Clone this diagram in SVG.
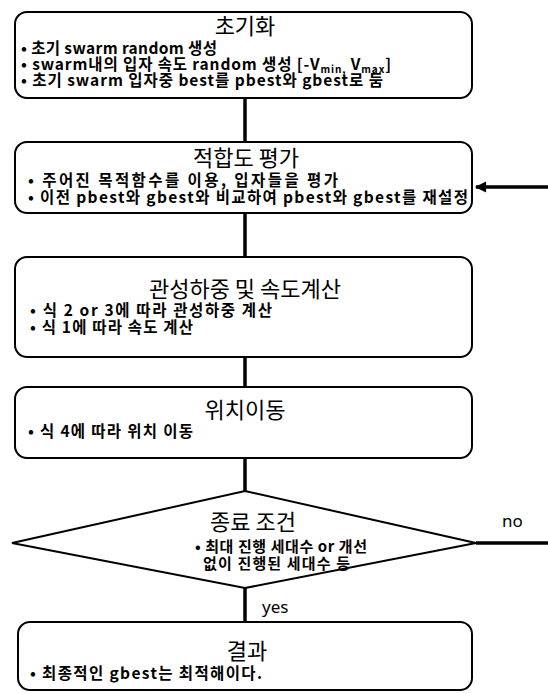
<svg xmlns="http://www.w3.org/2000/svg" width="548" height="694" viewBox="0 0 548 694">
<defs>
<style>
.box{fill:#fff;stroke:#000;stroke-width:2}
.ttl{font-family:"Noto Sans CJK KR","Noto Sans",sans-serif;font-size:22px;fill:#000;text-anchor:middle}
.bul{font-family:"Noto Sans CJK KR","Noto Sans",sans-serif;font-size:15.5px;font-weight:700;fill:#000}
.dbul{font-family:"Noto Sans CJK KR","Noto Sans",sans-serif;font-size:15px;font-weight:700;fill:#000}
.lbl{font-family:"Noto Sans","Noto Sans CJK KR",sans-serif;font-size:17px;fill:#000}
.con{stroke:#000;stroke-width:3.5;fill:none}
</style>
<marker id="ah" viewBox="0 0 10 10" refX="9" refY="5" markerWidth="3.6" markerHeight="3.2" orient="auto" markerUnits="strokeWidth">
<path d="M0,0 L10,5 L0,10 z" fill="#000"/>
</marker>
</defs>
<rect width="548" height="694" fill="#fff"/>
<g id="connectors">
<line class="con" x1="245" y1="98" x2="245" y2="142"/>
<line class="con" x1="245" y1="213" x2="245" y2="257"/>
<line class="con" x1="245" y1="357" x2="245" y2="387"/>
<line class="con" x1="245" y1="458" x2="245" y2="491"/>
<line class="con" x1="245" y1="588" x2="245" y2="622"/>
<line class="con" x1="476" y1="543" x2="548" y2="543"/>
<line class="con" x1="548" y1="187" x2="476" y2="187" marker-end="url(#ah)"/>
<text class="lbl" x="502" y="527">no</text>
<text class="lbl" x="262" y="613">yes</text>
</g>
<g id="init">
<rect class="box" x="15" y="12" width="457" height="86" rx="12"/>
<text class="ttl" x="245" y="34">초기화</text>
<text class="bul" x="21" y="54" textLength="196" lengthAdjust="spacing">• 초기 swarm random 생성</text>
<text class="bul" x="21" y="70" textLength="370" lengthAdjust="spacing">• swarm내의 입자 속도 random 생성 [-V<tspan font-size="10" dy="3">min,</tspan><tspan dy="-3"> V</tspan><tspan font-size="10" dy="3">max</tspan><tspan dy="-3">]</tspan></text>
<text class="bul" x="21" y="86" textLength="362" lengthAdjust="spacing">• 초기 swarm 입자중 best를 pbest와 gbest로 둠</text>
</g>
<g id="fitness">
<rect class="box" x="15" y="142" width="457" height="71" rx="12"/>
<text class="ttl" x="246" y="166">적합도 평가</text>
<text class="bul" x="28" y="186" textLength="310" lengthAdjust="spacing">• 주어진 목적함수를 이용, 입자들을 평가</text>
<text class="bul" x="28" y="203" textLength="440" lengthAdjust="spacing">• 이전 pbest와 gbest와 비교하여 pbest와 gbest를 재설정</text>
</g>
<g id="velocity">
<rect class="box" x="15" y="257" width="457" height="100" rx="12"/>
<text class="ttl" x="245" y="297">관성하중 및 속도계산</text>
<text class="bul" x="30" y="316" textLength="242" lengthAdjust="spacing">• 식 2 or 3에 따라 관성하중 계산</text>
<text class="bul" x="30" y="333" textLength="163" lengthAdjust="spacing">• 식 1에 따라 속도 계산</text>
</g>
<g id="move">
<rect class="box" x="15" y="387" width="457" height="71" rx="12"/>
<text class="ttl" x="245" y="418">위치이동</text>
<text class="bul" x="28" y="437" textLength="165" lengthAdjust="spacing">• 식 4에 따라 위치 이동</text>
</g>
<g id="stop">
<polygon class="box" points="245,491 476,543 245,588 12,543"/>
<text class="ttl" x="253" y="530">종료 조건</text>
<text class="dbul" x="195" y="552" textLength="172" lengthAdjust="spacing">• 최대 진행 세대수 or 개선</text>
<text class="dbul" x="203" y="569" textLength="147" lengthAdjust="spacing">없이 진행된 세대수 등</text>
</g>
<g id="result">
<rect class="box" x="18" y="622" width="454" height="68" rx="12"/>
<text class="ttl" x="247" y="659">결과</text>
<text class="bul" x="30" y="679" textLength="232" lengthAdjust="spacing">• 최종적인 gbest는 최적해이다.</text>
</g>
</svg>
